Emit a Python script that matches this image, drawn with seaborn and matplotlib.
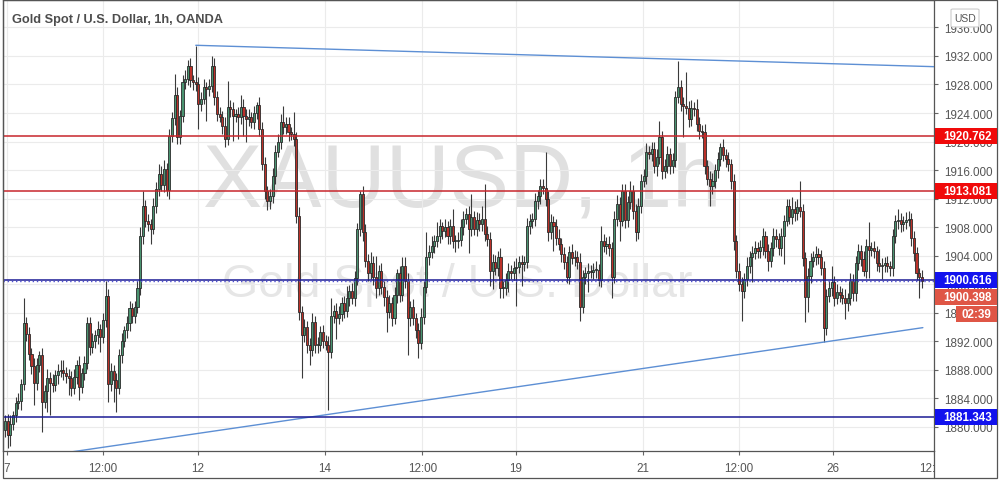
import pandas as pd
import matplotlib
matplotlib.use('Agg')
import matplotlib.pyplot as plt
import matplotlib.transforms as mtransforms
from matplotlib import font_manager
from matplotlib.patches import Rectangle, FancyBboxPatch
from matplotlib.lines import Line2D
import seaborn as sns

# hourly XAUUSD candles (open = previous close)
first_open = 1879.6
closes = [
    1880.8, 1878.9, 1880.4, 1881.6, 1883.3, 1883.6, 1886.0, 1894.6, 1893.0, 1890.2,
    1888.5, 1886.1, 1888.7, 1890.0, 1883.5, 1885.0, 1886.8, 1886.2, 1885.9, 1887.2,
    1887.8, 1887.9, 1887.6, 1887.1, 1886.9, 1885.4, 1887.0, 1888.7, 1885.6, 1887.5,
    1888.9, 1894.5, 1891.2, 1892.0, 1892.8, 1893.7, 1892.6, 1895.0, 1898.4, 1886.0,
    1887.8, 1886.5, 1885.5, 1890.0, 1892.0, 1893.5, 1894.6, 1896.6, 1895.5, 1896.8,
    1899.5, 1906.8, 1910.9, 1908.9, 1908.4, 1907.8, 1911.0, 1913.4, 1915.5, 1913.9,
    1916.2, 1913.2, 1920.8, 1923.3, 1926.5, 1920.7, 1923.6, 1928.3, 1928.8, 1930.6,
    1928.6, 1928.4, 1928.0, 1925.3, 1926.0, 1927.6, 1927.4, 1927.8, 1930.6, 1926.2,
    1923.9, 1923.5, 1922.2, 1920.4, 1924.9, 1924.5, 1923.6, 1923.8, 1923.4, 1924.9,
    1923.6, 1923.2, 1923.4, 1922.8, 1924.0, 1925.1, 1921.8, 1916.9, 1913.0, 1911.6,
    1912.3, 1915.1, 1918.6, 1920.0, 1922.8, 1922.0, 1922.5, 1921.3, 1921.0, 1920.4,
    1909.6, 1896.1, 1892.8, 1894.0, 1891.4, 1890.7, 1894.7, 1891.4, 1891.5, 1893.3,
    1892.0, 1891.5, 1890.5, 1895.6, 1896.3, 1895.2, 1895.8, 1897.3, 1896.3, 1898.0,
    1899.0, 1898.0, 1900.8, 1907.8, 1912.7, 1907.3, 1903.3, 1901.5, 1902.9, 1901.0,
    1899.4, 1901.8, 1899.6, 1898.2, 1896.1, 1897.3, 1895.2, 1898.5, 1901.5, 1898.5,
    1902.6, 1900.5, 1895.2, 1896.8, 1895.2, 1893.5, 1891.7, 1895.4, 1899.6, 1903.8,
    1904.5, 1905.4, 1906.0, 1906.8, 1908.2, 1907.5, 1908.0, 1906.7, 1908.2, 1906.0,
    1906.0, 1906.2, 1908.0, 1909.2, 1909.9, 1907.8, 1909.4, 1907.8, 1909.0, 1908.4,
    1909.2, 1907.1, 1906.4, 1901.8, 1903.1, 1902.2, 1903.8, 1899.4, 1899.5, 1900.6,
    1901.8, 1901.6, 1902.2, 1902.4, 1903.1, 1902.8, 1903.1, 1908.2, 1908.9, 1909.1,
    1911.6, 1912.4, 1913.8, 1913.5, 1912.0, 1907.3, 1908.7, 1908.2, 1906.5, 1905.7,
    1904.2, 1903.1, 1901.0, 1904.5, 1903.6, 1903.8, 1903.1, 1896.8, 1901.0, 1901.6,
    1901.8, 1901.7, 1902.0, 1902.0, 1900.6, 1906.1, 1905.4, 1905.6, 1905.0, 1901.0,
    1909.2, 1911.3, 1908.9, 1913.0, 1909.0, 1911.5, 1913.0, 1910.2, 1907.3, 1911.0,
    1914.5, 1915.2, 1918.6, 1918.3, 1919.0, 1916.5, 1917.9, 1920.6, 1915.8, 1916.6,
    1918.3, 1916.5, 1917.4, 1926.2, 1927.6, 1925.3, 1925.0, 1924.7, 1923.2, 1924.7,
    1924.5, 1922.5, 1921.5, 1921.3, 1916.5, 1914.8, 1913.7, 1914.4, 1916.0, 1917.6,
    1919.3, 1918.1, 1917.5, 1916.8, 1914.4, 1906.0, 1901.9, 1900.0, 1899.1, 1900.7,
    1902.6, 1903.8, 1904.3, 1905.0, 1904.6, 1905.2, 1906.7, 1904.7, 1903.3, 1905.0,
    1906.8, 1906.3, 1905.0, 1906.7, 1908.9, 1911.0, 1909.4, 1910.6, 1910.0, 1910.8,
    1910.3, 1903.6, 1898.2, 1901.2, 1903.3, 1903.8, 1904.2, 1903.8, 1902.2, 1893.8,
    1898.4, 1899.5, 1900.3, 1898.0, 1898.9, 1898.5, 1898.1, 1897.3, 1898.0, 1900.5,
    1898.7, 1902.9, 1904.7, 1903.5, 1901.9, 1905.3, 1904.8, 1905.0, 1904.6, 1903.0,
    1902.6, 1902.7, 1902.9, 1902.5, 1902.2, 1906.7, 1908.8, 1909.0, 1908.4, 1908.7,
    1909.0, 1909.1, 1906.5, 1904.3, 1901.5, 1901.0, 1900.4,
]
# wick lengths above max(open, close) and below min(open, close)
upper_wick = [
    0.8, 1.0, 1.2, 0.6, 0.9, 1.1, 0.7, 3.4, 0.8, 1.0,
    0.9, 1.2, 1.0, 0.6, 1.1, 0.8, 1.3, 0.9, 1.2, 0.7,
    1.0, 1.5, 1.5, 0.8, 1.0, 0.9, 1.1, 0.7, 1.2, 0.8,
    1.0, 0.9, 0.9, 1.1, 0.8, 1.2, 0.7, 1.0, 2.1, 0.9,
    1.1, 0.8, 1.0, 0.9, 1.2, 0.7, 1.0, 1.1, 0.8, 0.9,
    1.0, 1.2, 2.1, 0.9, 1.0, 0.8, 1.1, 0.9, 1.4, 1.0,
    1.2, 0.8, 1.0, 0.9, 3.0, 1.1, 0.8, 1.0, 1.2, 0.9,
    1.1, 0.8, 5.0, 1.0, 0.9, 1.2, 0.8, 1.0, 1.4, 1.1,
    0.9, 1.0, 0.8, 1.2, 3.6, 0.9, 1.1, 0.8, 1.0, 1.6,
    1.1, 0.9, 1.2, 0.8, 1.0, 0.5, 1.1, 0.9, 1.0, 0.8,
    1.0, 1.2, 0.9, 1.1, 1.0, 2.2, 0.9, 1.0, 0.8, 3.2,
    1.0, 1.2, 0.9, 1.1, 0.8, 1.0, 1.2, 0.9, 1.1, 0.8,
    1.0, 0.9, 1.2, 2.4, 0.8, 1.0, 1.1, 0.9, 1.0, 1.8,
    0.9, 1.1, 1.0, 0.8, 0.3, 1.0, 1.2, 0.9, 1.6, 1.0,
    3.0, 0.9, 1.1, 0.8, 1.0, 1.2, 0.9, 1.1, 0.6, 1.0,
    1.2, 1.2, 1.0, 0.9, 1.1, 0.8, 1.0, 1.2, 0.9, 3.5,
    1.0, 1.4, 0.9, 1.9, 1.0, 0.5, 1.1, 0.9, 1.0, 2.4,
    0.9, 1.1, 1.2, 1.0, 0.8, 1.0, 3.2, 0.9, 1.1, 1.0,
    1.8, 4.9, 1.0, 0.9, 1.1, 1.0, 0.8, 1.2, 0.9, 1.0,
    1.1, 0.9, 1.0, 1.2, 0.8, 1.0, 0.9, 1.1, 1.0, 0.9,
    1.2, 0.8, 1.0, 0.9, 5.1, 1.0, 1.1, 0.9, 1.0, 1.2,
    0.8, 1.0, 0.9, 0.8, 1.1, 1.0, 0.9, 1.2, 1.0, 0.8,
    1.1, 0.9, 1.0, 1.2, 0.8, 2.1, 0.9, 1.0, 1.1, 0.9,
    1.0, 1.2, 0.9, 1.1, 1.0, 0.8, 1.4, 0.9, 1.0, 1.1,
    0.9, 1.0, 1.2, 0.8, 1.0, 0.9, 1.1, 2.3, 0.9, 1.0,
    1.1, 0.8, 1.0, 0.9, 3.7, 1.0, 0.9, 4.8, 1.0, 1.1,
    0.9, 1.5, 1.0, 0.8, 1.1, 0.9, 1.0, 1.2, 0.8, 1.0,
    0.5, 1.0, 0.9, 1.1, 0.8, 1.0, 0.9, 1.1, 1.0, 0.9,
    1.2, 0.8, 1.0, 1.1, 0.9, 1.0, 1.2, 0.8, 1.0, 0.9,
    1.1, 1.0, 0.9, 1.2, 0.8, 1.0, 0.9, 1.6, 1.0, 1.1,
    3.6, 1.0, 0.9, 1.1, 1.0, 0.8, 1.2, 0.9, 1.0, 1.1,
    0.9, 1.0, 2.3, 0.8, 1.1, 0.9, 1.0, 1.2, 0.8, 1.0,
    0.9, 1.1, 1.0, 0.8, 1.1, 1.1, 3.4, 0.9, 1.0, 0.8,
    1.9, 1.0, 0.9, 1.1, 0.8, 1.0, 0.9, 1.6, 1.0, 0.9,
    1.1, 1.2, 0.9, 1.0, 0.9, 0.8, 1.0,
]
lower_wick = [
    1.1, 1.9, 1.6, 0.9, 1.0, 0.8, 1.2, 0.9, 1.0, 0.8,
    1.1, 3.1, 0.9, 1.0, 4.2, 0.8, 3.0, 4.5, 1.0, 0.9,
    1.2, 0.8, 1.0, 0.9, 2.5, 1.1, 0.8, 1.0, 1.9, 0.9,
    1.0, 0.8, 1.1, 0.9, 1.0, 1.2, 2.1, 0.8, 1.0, 2.5,
    1.0, 3.0, 3.5, 0.9, 1.1, 0.8, 1.0, 1.2, 0.9, 1.0,
    0.8, 1.0, 1.1, 0.9, 1.0, 2.1, 0.8, 1.0, 1.1, 0.9,
    1.0, 0.8, 1.2, 0.9, 1.0, 1.0, 1.1, 0.8, 1.0, 0.9,
    1.0, 1.2, 0.9, 3.5, 1.0, 0.8, 4.5, 1.0, 0.9, 1.1,
    1.0, 0.8, 1.2, 1.1, 0.9, 1.0, 3.5, 0.9, 3.0, 1.0,
    2.8, 3.2, 1.0, 0.9, 1.1, 0.8, 1.0, 0.9, 1.0, 1.2,
    1.1, 0.9, 1.0, 0.8, 1.1, 0.9, 1.0, 1.2, 0.8, 1.0,
    1.0, 1.1, 6.0, 0.9, 1.0, 2.1, 0.8, 1.0, 1.1, 0.9,
    1.0, 0.8, 8.2, 0.9, 1.0, 2.9, 0.8, 1.0, 1.1, 0.9,
    1.0, 0.8, 1.1, 0.9, 1.0, 1.2, 0.9, 1.0, 0.8, 1.1,
    1.4, 0.9, 1.0, 1.2, 2.8, 0.9, 1.0, 0.8, 1.1, 1.0,
    0.9, 1.0, 5.2, 1.1, 0.9, 1.0, 2.0, 0.8, 1.0, 0.9,
    1.1, 0.9, 1.0, 0.8, 1.0, 1.2, 0.9, 1.0, 1.1, 0.9,
    1.5, 1.0, 0.9, 1.1, 0.8, 3.5, 1.0, 0.9, 1.1, 1.0,
    0.9, 1.0, 1.1, 2.0, 2.5, 0.9, 1.0, 1.4, 1.4, 1.0,
    1.7, 0.9, 1.0, 5.2, 0.8, 3.1, 1.0, 0.9, 1.1, 1.0,
    0.9, 1.0, 1.1, 0.8, 1.0, 1.2, 0.9, 3.5, 1.0, 0.9,
    1.1, 1.0, 0.9, 1.0, 0.8, 1.1, 1.0, 2.0, 0.9, 1.0,
    2.7, 0.9, 1.0, 1.1, 0.8, 1.0, 0.9, 1.2, 1.0, 3.0,
    0.9, 1.0, 2.9, 0.8, 1.1, 1.0, 0.9, 1.0, 1.2, 0.9,
    1.0, 0.9, 1.1, 0.8, 1.0, 0.9, 1.3, 1.0, 1.0, 0.9,
    1.0, 1.1, 0.9, 1.0, 0.8, 1.0, 4.4, 0.9, 1.1, 1.0,
    0.9, 1.0, 1.1, 0.8, 1.0, 0.9, 2.7, 1.0, 0.9, 1.1,
    1.0, 0.8, 1.1, 0.9, 1.0, 1.2, 1.0, 0.9, 4.2, 1.0,
    0.9, 1.1, 3.5, 0.8, 1.0, 0.9, 1.1, 1.0, 1.4, 0.9,
    1.0, 1.1, 0.9, 1.0, 3.9, 0.8, 1.0, 0.9, 1.1, 1.0,
    0.9, 1.0, 3.5, 2.1, 1.0, 0.9, 1.1, 1.0, 0.9, 1.9,
    1.0, 0.9, 1.1, 1.0, 0.8, 1.0, 0.9, 2.2, 1.0, 0.9,
    1.1, 1.0, 0.9, 1.0, 0.8, 1.1, 4.0, 0.9, 1.0, 1.1,
    0.9, 1.9, 1.0, 0.8, 1.1, 1.0, 0.9, 1.0, 1.1, 0.9,
    1.0, 0.9, 1.1, 1.0, 0.9, 3.0, 1.0,
]

# time axis labels (positions in bar units)
tick_pos = [0.75, 37.0, 72.8, 120.8, 157.5, 192.8, 240.8, 277.0, 312.5, 350.6]
tick_labels = ['7', '12:00', '12', '14', '12:00', '19', '21', '12:00', '26', '12:00']
price_ticks = [1880, 1884, 1888, 1892, 1896, 1900, 1904, 1908, 1912, 1916,
               1920, 1924, 1928, 1932, 1936]

red_levels = [1920.762, 1913.081]
blue_levels = [1900.616, 1881.343]
last_price = 1900.398
countdown = '02:39'

upper_trend_x = [72.0, 350.6]
upper_trend_y = [1933.5, 1930.5]
lower_trend_x = [20.0, 346.4]
lower_trend_y = [1876.2, 1893.9]

sns.set_theme(style='white')
names = {f.name for f in font_manager.fontManager.ttflist}
base_font = 'Liberation Sans' if 'Liberation Sans' in names else 'DejaVu Sans'
wm_font = 'Liberation Sans Narrow' if 'Liberation Sans Narrow' in names else base_font
plt.rcParams['font.family'] = [base_font, 'DejaVu Sans']

df = pd.DataFrame({'close': closes})
df['open'] = [first_open] + closes[:-1]
df['high'] = df[['open', 'close']].max(axis=1) + pd.Series(upper_wick)
df['low'] = df[['open', 'close']].min(axis=1) - pd.Series(lower_wick)
df['x'] = range(len(df))
df['bottom'] = df[['open', 'close']].min(axis=1)
df['body'] = (df['close'] - df['open']).abs().clip(lower=0.15)
df['color'] = ['#4a9370' if c >= o else '#bb3129' for o, c in zip(df['open'], df['close'])]

W, H = 1003, 485
fig = plt.figure(figsize=(W / 100, H / 100), dpi=100)
fig.patch.set_facecolor('white')
ax = fig.add_axes([3 / W, 33 / H, 931 / W, 451 / H])
ax.set_facecolor('white')
ax.set_xlim(-0.75, 350.6)
ax.set_ylim(1876.6, 1939.85)

# watermark
ax.text(462 / W, 1 - 183 / H, 'XAUUSD, 1h', transform=fig.transFigure, ha='center', va='center',
        fontsize=64, color='#e0e0e0', family=wm_font, zorder=0.5)
ax.text(457 / W, 1 - 285 / H, 'Gold Spot / U.S. Dollar', transform=fig.transFigure, ha='center',
        va='center', fontsize=33.5, color='#e6e6e6', family=base_font, zorder=0.5)

# candles
ax.vlines(df['x'], df['low'], df['high'], color='#3a3a3a', linewidth=0.8, zorder=2)
ax.bar(df['x'], df['body'], bottom=df['bottom'], width=0.78, color=df['color'],
       edgecolor='#2a2a2a', linewidth=0.6, zorder=2.5)

# levels and trend lines
for lvl in red_levels:
    ax.axhline(lvl, color='#c8262c', linewidth=1.1, zorder=4)
for lvl in blue_levels:
    ax.axhline(lvl, color='#1b1b94', linewidth=1.1, zorder=4)
ax.axhline(last_price, color='#5353d0', linewidth=1.0, linestyle=(0, (1, 2)), zorder=4)
sns.lineplot(x=upper_trend_x, y=upper_trend_y, ax=ax, color='#5d8fd4', linewidth=1.0, zorder=3)
sns.lineplot(x=lower_trend_x, y=lower_trend_y, ax=ax, color='#5d8fd4', linewidth=1.0, zorder=3)

# axes styling
ax.set_xticks(tick_pos)
ax.set_xticklabels(tick_labels)
ax.set_yticks(price_ticks)
ax.set_yticklabels([f'{p:.3f}' for p in price_ticks])
ax.yaxis.tick_right()
ax.grid(True, color='#ebebeb', linewidth=0.8)
ax.set_axisbelow(True)
ax.tick_params(axis='y', right=True, left=False, labelright=True, labelleft=False,
               length=3, width=0.8, color='#666666', labelsize=8.4, labelcolor='#555555', pad=4)
ax.tick_params(axis='x', bottom=True, length=3, width=0.8, color='#666666',
               labelsize=8.4, labelcolor='#555555', pad=5)
for side in ['left', 'right', 'bottom', 'top']:
    ax.spines[side].set_color('#555555')
    ax.spines[side].set_linewidth(0.9)
ax.set_xlabel('')
ax.set_ylabel('')

ax.text(12 / W, 1 - 20 / H, 'Gold Spot / U.S. Dollar, 1h, OANDA', transform=fig.transFigure,
        ha='left', va='center', fontsize=9.2, fontweight='bold', color='#4d4d4d', zorder=6)

# cover for the clipped time label under the price scale
fig.add_artist(Rectangle((935 / W, 7 / H), 61 / W, 25 / H, transform=fig.transFigure,
                         facecolor='white', edgecolor='none', zorder=1))
fig.add_artist(Line2D([934.5 / W, 934.5 / W], [6 / H, 33 / H], transform=fig.transFigure,
                      color='#555555', linewidth=0.9, zorder=2))
fig.add_artist(Rectangle((3 / W, 6 / H), 994 / W, 478 / H, transform=fig.transFigure,
                         fill=False, edgecolor='#555555', linewidth=0.9, zorder=2))

# price labels on the scale
blend = mtransforms.blended_transform_factory(fig.transFigure, ax.transData)
box_h = 16 / 7.13


def price_box(y, text, color, x0=935, tx=943, ha='left'):
    fig.add_artist(Rectangle((x0 / W, y - box_h / 2), (997 - x0) / W, box_h, transform=blend,
                             facecolor=color, edgecolor='none', zorder=5))
    fig.text(tx / W, y, text, transform=blend, color='white', fontsize=8.4,
             fontweight='bold', ha=ha, va='center', zorder=6)


for lvl in red_levels:
    price_box(lvl, f'{lvl:.3f}', '#f00a0a')
for lvl in blue_levels:
    price_box(lvl, f'{lvl:.3f}', '#1212ee')
price_box(1898.13, f'{last_price:.3f}', '#df5646')
price_box(1895.8, countdown, '#df5646', x0=956, tx=976.5, ha='center')

fig.add_artist(FancyBboxPatch((953 / W, 1 - 27 / H), 24 / W, 16 / H, transform=fig.transFigure,
                              boxstyle='round,pad=0.002', facecolor='white',
                              edgecolor='#cccccc', linewidth=0.8, zorder=5))
fig.text(965 / W, 1 - 19 / H, 'USD', color='#555555', fontsize=7.5, ha='center', va='center', zorder=6)

fig.savefig('out.png', dpi=100)
